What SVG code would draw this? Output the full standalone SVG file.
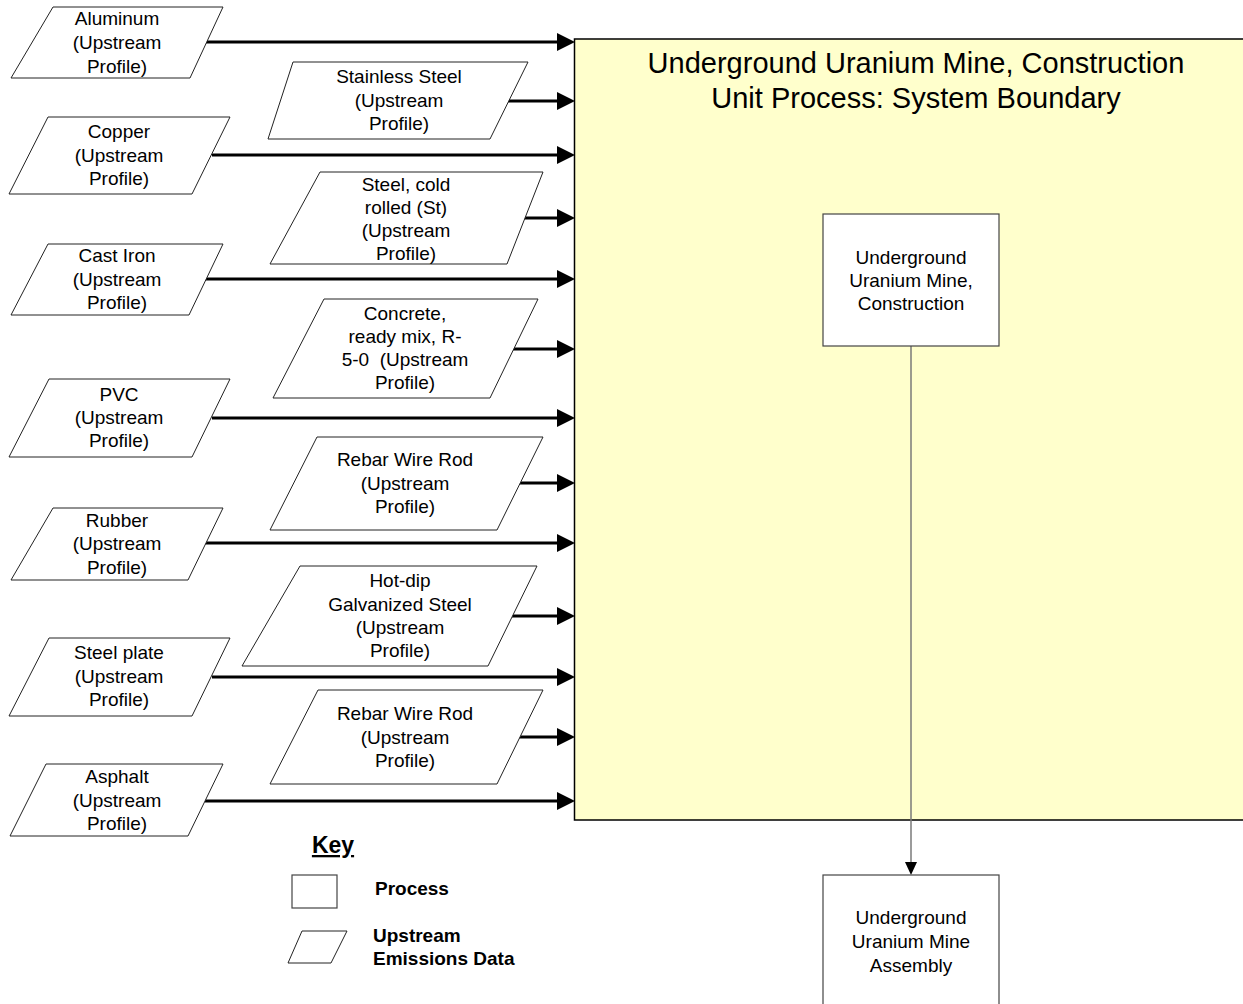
<svg xmlns="http://www.w3.org/2000/svg" width="1243" height="1004" viewBox="0 0 1243 1004">
<style>
text{font-family:"Liberation Sans",Arial,sans-serif;fill:#000}
.t{font-size:19px;text-anchor:middle}
.title{font-size:29px;text-anchor:middle}
.para{fill:#fff;stroke:#222;stroke-width:1}
.proc{fill:#fff;stroke:#444;stroke-width:1.2}
.flow{stroke:#000;stroke-width:3;fill:none;marker-end:url(#ah)}
.kb{font-size:19px;font-weight:bold}
</style>
<defs>
<marker id="ah" markerUnits="userSpaceOnUse" viewBox="0 0 18 18" refX="9" refY="9" markerWidth="18" markerHeight="18" orient="auto">
<path d="M0,0 L18,9 L0,18 Z" fill="#000"/>
</marker>
<marker id="ahs" markerUnits="userSpaceOnUse" viewBox="0 0 13 12" refX="0" refY="6" markerWidth="13" markerHeight="12" orient="auto">
<path d="M0,0 L13,6 L0,12 Z" fill="#000"/>
</marker>
</defs>

<g id="boundary">
<rect x="574.5" y="39" width="700" height="781" fill="#ffffcc" stroke="#000" stroke-width="1.5"/>
<text class="title" x="916" y="73">Underground Uranium Mine, Construction</text>
<text class="title" x="916" y="108">Unit Process: System Boundary</text>
</g>

<g id="connectors">
<line class="flow" x1="205" y1="42" x2="566" y2="42"/>
<line class="flow" x1="212" y1="155" x2="566" y2="155"/>
<line class="flow" x1="204" y1="279" x2="566" y2="279"/>
<line class="flow" x1="212" y1="418" x2="566" y2="418"/>
<line class="flow" x1="205" y1="543" x2="566" y2="543"/>
<line class="flow" x1="212" y1="677" x2="566" y2="677"/>
<line class="flow" x1="205" y1="801" x2="566" y2="801"/>
<line class="flow" x1="508" y1="101" x2="566" y2="101"/>
<line class="flow" x1="518" y1="218" x2="566" y2="218"/>
<line class="flow" x1="513" y1="349" x2="566" y2="349"/>
<line class="flow" x1="518" y1="483" x2="566" y2="483"/>
<line class="flow" x1="512" y1="616" x2="566" y2="616"/>
<line class="flow" x1="518" y1="737" x2="566" y2="737"/>
<line x1="911" y1="346" x2="911" y2="862" stroke="#7a7a7a" stroke-width="1.5" marker-end="url(#ahs)"/>
</g>

<g id="aluminum">
<polygon class="para" points="53,7 223,7 190,78 11,78"/>
<text class="t" x="117" y="25">Aluminum</text>
<text class="t" x="117" y="49">(Upstream</text>
<text class="t" x="117" y="73">Profile)</text>
</g>
<g id="copper">
<polygon class="para" points="48,117 230,117 192,194 9,194"/>
<text class="t" x="119" y="138">Copper</text>
<text class="t" x="119" y="162">(Upstream</text>
<text class="t" x="119" y="185">Profile)</text>
</g>
<g id="castiron">
<polygon class="para" points="48,244 223,244 189,315 11,315"/>
<text class="t" x="117" y="262">Cast Iron</text>
<text class="t" x="117" y="286">(Upstream</text>
<text class="t" x="117" y="309">Profile)</text>
</g>
<g id="pvc">
<polygon class="para" points="49,379 230,379 192,457 9,457"/>
<text class="t" x="119" y="401">PVC</text>
<text class="t" x="119" y="424">(Upstream</text>
<text class="t" x="119" y="447">Profile)</text>
</g>
<g id="rubber">
<polygon class="para" points="53,508 223,508 188,580 11,580"/>
<text class="t" x="117" y="527">Rubber</text>
<text class="t" x="117" y="550">(Upstream</text>
<text class="t" x="117" y="574">Profile)</text>
</g>
<g id="steelplate">
<polygon class="para" points="49,638 230,638 192,716 9,716"/>
<text class="t" x="119" y="659">Steel plate</text>
<text class="t" x="119" y="683">(Upstream</text>
<text class="t" x="119" y="706">Profile)</text>
</g>
<g id="asphalt">
<polygon class="para" points="46,764 223,764 188,836 10,836"/>
<text class="t" x="117" y="783">Asphalt</text>
<text class="t" x="117" y="807">(Upstream</text>
<text class="t" x="117" y="830">Profile)</text>
</g>

<g id="stainless">
<polygon class="para" points="293,62 528,62 490,139 268,139"/>
<text class="t" x="399" y="83">Stainless Steel</text>
<text class="t" x="399" y="107">(Upstream</text>
<text class="t" x="399" y="130">Profile)</text>
</g>
<g id="steelcold">
<polygon class="para" points="320,172 543,172 507,264 270,264"/>
<text class="t" x="406" y="191">Steel, cold</text>
<text class="t" x="406" y="214">rolled (St)</text>
<text class="t" x="406" y="237">(Upstream</text>
<text class="t" x="406" y="260">Profile)</text>
</g>
<g id="concrete">
<polygon class="para" points="324,299 538,299 490,398 273,398"/>
<text class="t" x="405" y="320">Concrete,</text>
<text class="t" x="405" y="343">ready mix, R-</text>
<text class="t" x="405" y="366" xml:space="preserve">5-0  (Upstream</text>
<text class="t" x="405" y="389">Profile)</text>
</g>
<g id="rebar1">
<polygon class="para" points="317,437 543,437 497,530 270,530"/>
<text class="t" x="405" y="466">Rebar Wire Rod</text>
<text class="t" x="405" y="490">(Upstream</text>
<text class="t" x="405" y="513">Profile)</text>
</g>
<g id="hotdip">
<polygon class="para" points="300,566 537,566 488,666 242,666"/>
<text class="t" x="400" y="587">Hot-dip</text>
<text class="t" x="400" y="611">Galvanized Steel</text>
<text class="t" x="400" y="634">(Upstream</text>
<text class="t" x="400" y="657">Profile)</text>
</g>
<g id="rebar2">
<polygon class="para" points="318,690 543,690 497,784 270,784"/>
<text class="t" x="405" y="720">Rebar Wire Rod</text>
<text class="t" x="405" y="744">(Upstream</text>
<text class="t" x="405" y="767">Profile)</text>
</g>

<g id="construction">
<rect class="proc" x="823" y="214" width="176" height="132"/>
<text class="t" x="911" y="264">Underground</text>
<text class="t" x="911" y="287">Uranium Mine,</text>
<text class="t" x="911" y="310">Construction</text>
</g>
<g id="assembly">
<rect class="proc" x="823" y="875" width="176" height="140"/>
<text class="t" x="911" y="924">Underground</text>
<text class="t" x="911" y="948">Uranium Mine</text>
<text class="t" x="911" y="972">Assembly</text>
</g>

<g id="key">
<text x="333" y="853" font-size="23" font-weight="bold" text-anchor="middle" text-decoration="underline">Key</text>
<rect x="292" y="875" width="45" height="33" fill="#fff" stroke="#444" stroke-width="1.2"/>
<text class="kb" x="375" y="895">Process</text>
<polygon class="para" points="302,931 347,931 331,963 288,963"/>
<text class="kb" x="373" y="942">Upstream</text>
<text class="kb" x="373" y="965">Emissions Data</text>
</g>
</svg>
